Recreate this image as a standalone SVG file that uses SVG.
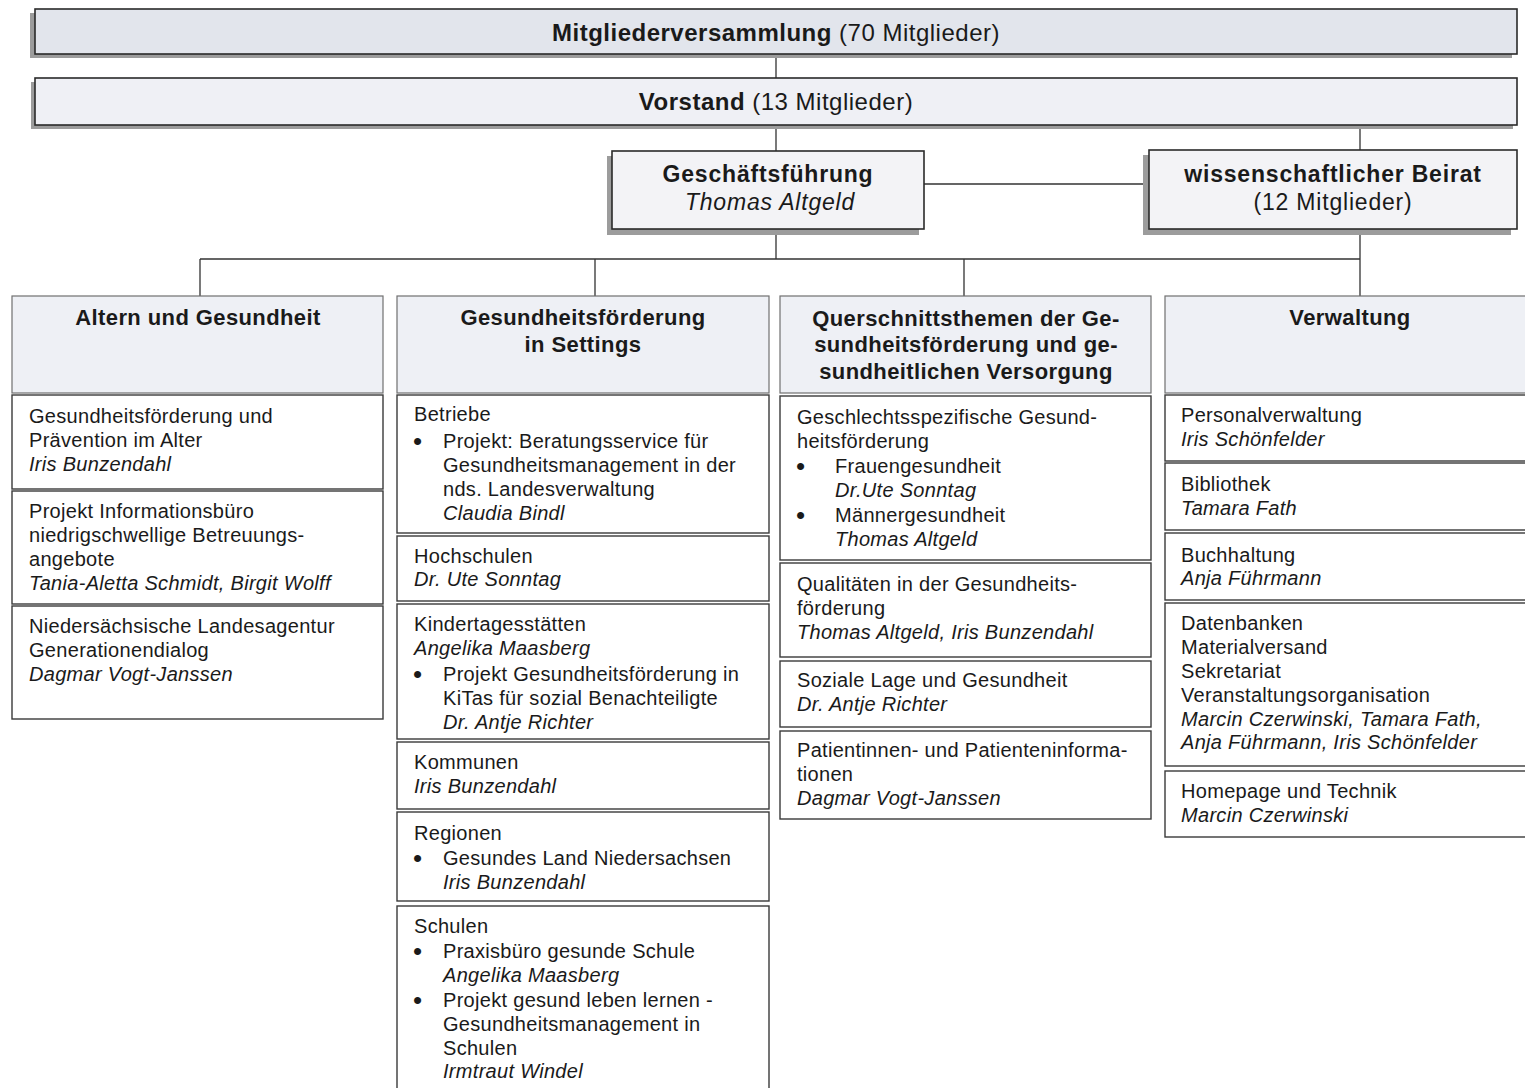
<svg xmlns="http://www.w3.org/2000/svg" width="1525" height="1088" viewBox="0 0 1525 1088">
<style>
.b{fill:#fff;stroke:#3a3a3a;stroke-width:1.4}
.h{fill:#eef0f5;stroke:#707070;stroke-width:1.2}
.top{fill:#e2e5ec;stroke:#2a2a2a;stroke-width:1.6}
.top2{fill:#eff0f5;stroke:#2a2a2a;stroke-width:1.6}
.mid{fill:#f3f3f6;stroke:#2a2a2a;stroke-width:1.6}
.sh{fill:#9c9c9c}
.c{fill:none;stroke:#333;stroke-width:1.3}
text{font-family:"Liberation Sans",Arial,Helvetica,sans-serif;fill:#1a1a1a}
.t{font-size:20px;letter-spacing:0.3px}
.bu{font-size:26px}
.i{font-style:italic}
.hb{font-size:22px;font-weight:bold;text-anchor:middle;letter-spacing:0.4px}
.tt{font-size:24px;text-anchor:middle;letter-spacing:0.5px}
.m{font-size:23px;text-anchor:middle;letter-spacing:0.8px}
</style>

<g id="connectors">
<path class="c" d="M776 54V78M776 125V152M1360 125V150M924 184H1149M776 229V259M200 259H1360M1360 229V296M200 259V296M595 259V296M964 259V296"/>
</g>

<g id="mitgliederversammlung">
<rect class="sh" x="30" y="13" width="1482" height="45"/>
<rect class="top" x="35" y="9" width="1482" height="45"/>
<text class="tt" x="776" y="41"><tspan font-weight="bold">Mitgliederversammlung</tspan> (70 Mitglieder)</text>
</g>

<g id="vorstand">
<rect class="sh" x="31" y="82" width="1482" height="47"/>
<rect class="top2" x="35" y="78" width="1482" height="47"/>
<text class="tt" x="776" y="110"><tspan font-weight="bold">Vorstand</tspan> (13 Mitglieder)</text>
</g>

<g id="geschaeftsfuehrung">
<rect class="sh" x="607" y="156" width="312" height="79"/>
<rect class="mid" x="612" y="151" width="312" height="78"/>
<text class="m" x="768" y="182" font-weight="bold">Geschäftsführung</text>
<text class="m i" x="770" y="210">Thomas Altgeld</text>
</g>

<g id="beirat">
<rect class="sh" x="1143" y="155" width="368" height="80"/>
<rect class="mid" x="1149" y="150" width="368" height="79"/>
<text class="m" x="1333" y="182" font-weight="bold">wissenschaftlicher Beirat</text>
<text class="m" x="1333" y="210">(12 Mitglieder)</text>
</g>

<!-- Column 1 -->
<g id="altern">
<rect class="h" x="12" y="296" width="371" height="97"/>
<text class="hb" x="198" y="325">Altern und Gesundheit</text>
</g>
<g id="altern-1">
<rect class="b" x="12" y="395" width="371" height="94"/>
<text class="t" x="29" y="423">Gesundheitsförderung und</text>
<text class="t" x="29" y="447">Prävention im Alter</text>
<text class="t i" x="29" y="471">Iris Bunzendahl</text>
</g>
<g id="altern-2">
<rect class="b" x="12" y="491" width="371" height="113"/>
<text class="t" x="29" y="518">Projekt Informationsbüro</text>
<text class="t" x="29" y="542">niedrigschwellige Betreuungs-</text>
<text class="t" x="29" y="566">angebote</text>
<text class="t i" x="29" y="590">Tania-Aletta Schmidt, Birgit Wolff</text>
</g>
<g id="altern-3">
<rect class="b" x="12" y="606" width="371" height="113"/>
<text class="t" x="29" y="633">Niedersächsische Landesagentur</text>
<text class="t" x="29" y="657">Generationendialog</text>
<text class="t i" x="29" y="681">Dagmar Vogt-Janssen</text>
</g>

<!-- Column 2 -->
<g id="settings">
<rect class="h" x="397" y="296" width="372" height="97"/>
<text class="hb" x="583" y="325">Gesundheitsförderung</text>
<text class="hb" x="583" y="352">in Settings</text>
</g>
<g id="betriebe">
<rect class="b" x="397" y="395" width="372" height="138"/>
<text class="t" x="414" y="421">Betriebe</text>
<text class="t bu" x="413" y="450">•</text>
<text class="t" x="443" y="448">Projekt: Beratungsservice für</text>
<text class="t" x="443" y="472">Gesundheitsmanagement in der</text>
<text class="t" x="443" y="496">nds. Landesverwaltung</text>
<text class="t i" x="443" y="520">Claudia Bindl</text>
</g>
<g id="hochschulen">
<rect class="b" x="397" y="536" width="372" height="65"/>
<text class="t" x="414" y="563">Hochschulen</text>
<text class="t i" x="414" y="586">Dr. Ute Sonntag</text>
</g>
<g id="kitas">
<rect class="b" x="397" y="604" width="372" height="135"/>
<text class="t" x="414" y="631">Kindertagesstätten</text>
<text class="t i" x="414" y="655">Angelika Maasberg</text>
<text class="t bu" x="413" y="683">•</text>
<text class="t" x="443" y="681">Projekt Gesundheitsförderung in</text>
<text class="t" x="443" y="705">KiTas für sozial Benachteiligte</text>
<text class="t i" x="443" y="729">Dr. Antje Richter</text>
</g>
<g id="kommunen">
<rect class="b" x="397" y="742" width="372" height="67"/>
<text class="t" x="414" y="769">Kommunen</text>
<text class="t i" x="414" y="793">Iris Bunzendahl</text>
</g>
<g id="regionen">
<rect class="b" x="397" y="812" width="372" height="89"/>
<text class="t" x="414" y="840">Regionen</text>
<text class="t bu" x="413" y="867">•</text>
<text class="t" x="443" y="865">Gesundes Land Niedersachsen</text>
<text class="t i" x="443" y="889">Iris Bunzendahl</text>
</g>
<g id="schulen">
<rect class="b" x="397" y="906" width="372" height="200"/>
<text class="t" x="414" y="933">Schulen</text>
<text class="t bu" x="413" y="960">•</text>
<text class="t" x="443" y="958">Praxisbüro gesunde Schule</text>
<text class="t i" x="443" y="982">Angelika Maasberg</text>
<text class="t bu" x="413" y="1009">•</text>
<text class="t" x="443" y="1007">Projekt gesund leben lernen -</text>
<text class="t" x="443" y="1031">Gesundheitsmanagement in</text>
<text class="t" x="443" y="1055">Schulen</text>
<text class="t i" x="443" y="1078">Irmtraut Windel</text>
</g>

<!-- Column 3 -->
<g id="querschnitt">
<rect class="h" x="780" y="296" width="371" height="97"/>
<text class="hb" x="966" y="326">Querschnittsthemen der Ge-</text>
<text class="hb" x="966" y="352">sundheitsförderung und ge-</text>
<text class="hb" x="966" y="379">sundheitlichen Versorgung</text>
</g>
<g id="geschlecht">
<rect class="b" x="780" y="396" width="371" height="164"/>
<text class="t" x="797" y="424">Geschlechtsspezifische Gesund-</text>
<text class="t" x="797" y="448">heitsförderung</text>
<text class="t bu" x="796" y="475">•</text>
<text class="t" x="835" y="473">Frauengesundheit</text>
<text class="t i" x="835" y="497">Dr.Ute Sonntag</text>
<text class="t bu" x="796" y="524">•</text>
<text class="t" x="835" y="522">Männergesundheit</text>
<text class="t i" x="835" y="546">Thomas Altgeld</text>
</g>
<g id="qualitaeten">
<rect class="b" x="780" y="563" width="371" height="94"/>
<text class="t" x="797" y="591">Qualitäten in der Gesundheits-</text>
<text class="t" x="797" y="615">förderung</text>
<text class="t i" x="797" y="639">Thomas Altgeld, Iris Bunzendahl</text>
</g>
<g id="soziale-lage">
<rect class="b" x="780" y="661" width="371" height="66"/>
<text class="t" x="797" y="687">Soziale Lage und Gesundheit</text>
<text class="t i" x="797" y="711">Dr. Antje Richter</text>
</g>
<g id="patienten">
<rect class="b" x="780" y="731" width="371" height="88"/>
<text class="t" x="797" y="757">Patientinnen- und Patienteninforma-</text>
<text class="t" x="797" y="781">tionen</text>
<text class="t i" x="797" y="805">Dagmar Vogt-Janssen</text>
</g>

<!-- Column 4 -->
<g id="verwaltung">
<rect class="h" x="1165" y="296" width="370" height="97"/>
<text class="hb" x="1350" y="325">Verwaltung</text>
</g>
<g id="personal">
<rect class="b" x="1165" y="395" width="370" height="66"/>
<text class="t" x="1181" y="422">Personalverwaltung</text>
<text class="t i" x="1181" y="446">Iris Schönfelder</text>
</g>
<g id="bibliothek">
<rect class="b" x="1165" y="463" width="370" height="67"/>
<text class="t" x="1181" y="491">Bibliothek</text>
<text class="t i" x="1181" y="515">Tamara Fath</text>
</g>
<g id="buchhaltung">
<rect class="b" x="1165" y="533" width="370" height="67"/>
<text class="t" x="1181" y="562">Buchhaltung</text>
<text class="t i" x="1181" y="585">Anja Führmann</text>
</g>
<g id="datenbanken">
<rect class="b" x="1165" y="603" width="370" height="163"/>
<text class="t" x="1181" y="630">Datenbanken</text>
<text class="t" x="1181" y="654">Materialversand</text>
<text class="t" x="1181" y="678">Sekretariat</text>
<text class="t" x="1181" y="702">Veranstaltungsorganisation</text>
<text class="t i" x="1181" y="726">Marcin Czerwinski, Tamara Fath,</text>
<text class="t i" x="1181" y="749">Anja Führmann, Iris Schönfelder</text>
</g>
<g id="homepage">
<rect class="b" x="1165" y="771" width="370" height="66"/>
<text class="t" x="1181" y="798">Homepage und Technik</text>
<text class="t i" x="1181" y="822">Marcin Czerwinski</text>
</g>
</svg>
